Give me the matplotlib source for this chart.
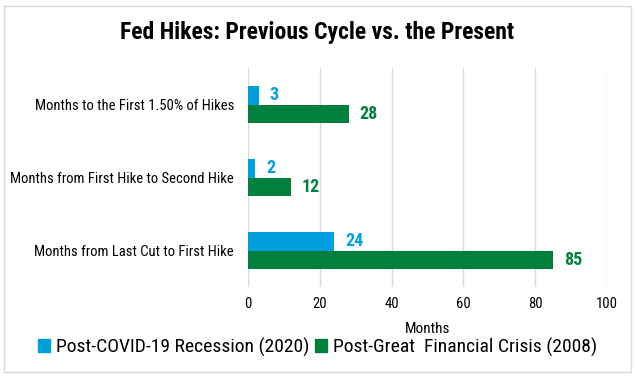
import numpy as np
import matplotlib
matplotlib.use("Agg")
import matplotlib.pyplot as plt
from matplotlib.patches import Rectangle, Patch

plt.rcParams['font.family'] = ['Roboto Condensed', 'DejaVu Sans']
plt.rcParams['font.stretch'] = 'condensed'

# data
categories = ["Months from Last Cut to First Hike",
              "Months from First Hike to Second Hike",
              "Months to the First 1.50% of Hikes"]
covid = [24, 2, 3]
gfc = [85, 12, 28]
series_names = ["Post-COVID-19 Recession (2020)", "Post-Great  Financial Crisis (2008)"]
xticks = [0, 20, 40, 60, 80, 100]

blue = "#009FDF"
green = "#00803C"

fig = plt.figure(figsize=(6.35, 3.78), dpi=100)
fig.patches.append(Rectangle((4/635, 6/378), 627/635, 366/378, transform=fig.transFigure,
                             fill=False, edgecolor="#d9d9d9", linewidth=1))

ax = fig.add_axes([248/635, 1 - 287/378, 359/635, 219/378])
y = np.arange(len(categories))
h = 0.26
b1 = ax.barh(y + h/2, covid, height=h, color=blue)
b2 = ax.barh(y - h/2, gfc, height=h, color=green)

for rect, v in zip(b1, covid):
    ax.text(v + 3, rect.get_y() + rect.get_height()/2, str(v), color=blue,
            fontsize=13, fontweight="bold", va="center", ha="left")
for rect, v in zip(b2, gfc):
    ax.text(v + 3, rect.get_y() + rect.get_height()/2, str(v), color=green,
            fontsize=13, fontweight="bold", va="center", ha="left")

ax.set_xlim(0, 100)
ax.set_ylim(-0.5, 2.5)
ax.set_xticks(xticks)
ax.set_yticks(y)
ax.set_yticklabels(categories, fontsize=10.5)
ax.tick_params(axis="x", labelsize=10.5, length=0, pad=7)
ax.tick_params(axis="y", length=0, pad=10)
ax.grid(axis="x", color="#d9d9d9", linewidth=1)
ax.set_axisbelow(True)
for s in ax.spines.values():
    s.set_visible(False)
ax.set_xlabel("Months", fontsize=11, labelpad=8)

fig.text(0.5, 1 - 33/378, "Fed Hikes: Previous Cycle vs. the Present", ha="center", va="center",
         fontsize=17, fontweight="bold")

handles = [Patch(color=blue), Patch(color=green)]
fig.legend(handles, series_names, loc="center", bbox_to_anchor=(0.5, 1 - 347/378), ncol=2,
           frameon=False, fontsize=14, handlelength=0.6, handleheight=0.6,
           handletextpad=0.3, columnspacing=0.3)

fig.savefig("out.png", dpi=100)
